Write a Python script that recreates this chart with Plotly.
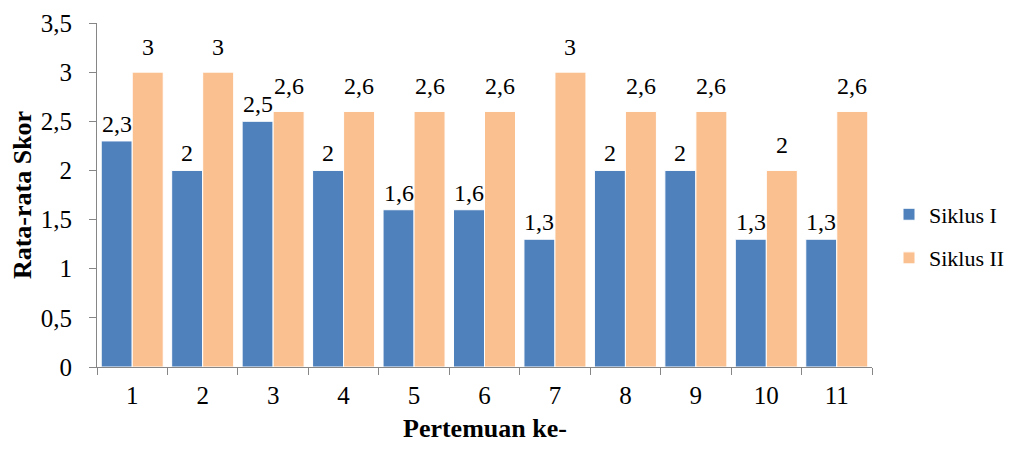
import plotly.graph_objects as go

categories = ["1", "2", "3", "4", "5", "6", "7", "8", "9", "10", "11"]
siklus1 = [2.3, 2.0, 2.5, 2.0, 1.6, 1.6, 1.3, 2.0, 2.0, 1.3, 1.3]
siklus2 = [3.0, 3.0, 2.6, 2.6, 2.6, 2.6, 3.0, 2.6, 2.6, 2.0, 2.6]
y_ticks = [0, 0.5, 1, 1.5, 2, 2.5, 3, 3.5]

def fmt(v):
    return ("%g" % v).replace(".", ",")

FONT = "Liberation Serif"

fig = go.Figure()
fig.add_trace(go.Bar(
    x=categories, y=siklus1, name="Siklus I", legendgroup="s1",
    marker=dict(color="#4F81BD", line=dict(color="white", width=1)),
))
fig.add_trace(go.Bar(
    x=categories, y=siklus2, name="Siklus II", legendgroup="s2",
    marker=dict(color="#FAC090", line=dict(color="white", width=1)),
))

# value labels above the bars (category axis: position by category index)
for series, shift_x, shift_y in ((siklus1, -15.5, 2), (siklus2, 15.5, 10)):
    for i, v in enumerate(series):
        fig.add_annotation(
            x=i, y=v, xref="x", yref="y", text=fmt(v), showarrow=False,
            xanchor="center", yanchor="bottom", xshift=shift_x, yshift=shift_y,
            font=dict(family=FONT, size=24, color="black"),
        )

# x-axis title
fig.add_annotation(
    x=0.5, y=0, xref="paper", yref="paper", text="<b>Pertemuan ke-</b>",
    showarrow=False, xanchor="center", yanchor="middle", yshift=-61,
    font=dict(family=FONT, size=26, color="black"),
)

fig.update_layout(
    width=1000, height=436,
    margin=dict(l=89, r=136, t=15, b=77),
    plot_bgcolor="white", paper_bgcolor="white",
    barmode="group", bargap=0.12, bargroupgap=0,
    separators=",.",
    font=dict(family=FONT, size=24, color="black"),
    showlegend=True,
    legend=dict(xref="container", yref="container", x=0.881, y=0.476,
                xanchor="left", yanchor="middle",
                font=dict(family=FONT, size=22, color="black"),
                itemwidth=30, tracegroupgap=12, bgcolor="rgba(0,0,0,0)"),
    xaxis=dict(
        type="category", range=[-0.5, 10.5], showgrid=False, showline=True,
        linecolor="#868686", linewidth=1,
        ticks="outside", tickson="boundaries", ticklen=7, tickcolor="#868686",
        tickfont=dict(family=FONT, size=25), automargin=False, ticklabelstandoff=6,
    ),
    yaxis=dict(
        range=[0, 3.5], tickvals=y_ticks, showgrid=False, showline=True,
        linecolor="#868686", linewidth=1, ticks="outside", ticklen=7, tickcolor="#868686",
        tickfont=dict(family=FONT, size=25), zeroline=False, automargin=False,
        ticklabelstandoff=12,
        title=dict(text="<b>Rata-rata Skor</b>", font=dict(family=FONT, size=26), standoff=14),
    ),
)

fig.write_html("out.html")
